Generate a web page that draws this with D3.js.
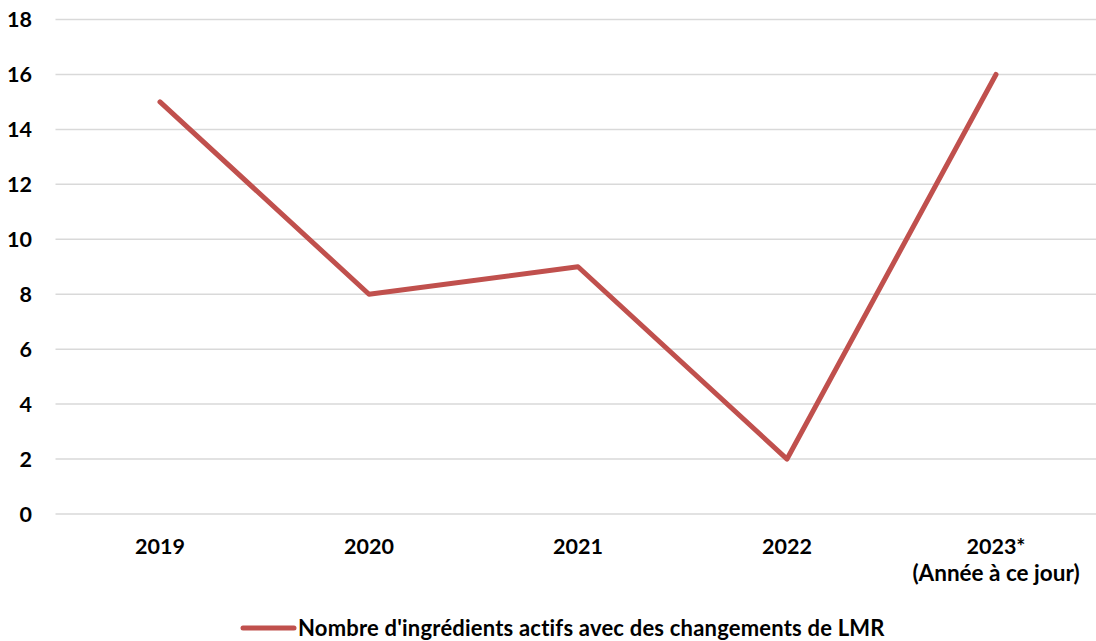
<!DOCTYPE html>
<html>
<head>
<meta charset="utf-8">
<script src="https://cdn.jsdelivr.net/npm/d3@7"></script>
<style>
  body { margin: 0; background: #fff; }
  text { font-family: Lato, "Open Sans", sans-serif; font-weight: bold; fill: #000; }
</style>
</head>
<body>
<svg id="chart" width="1096" height="641"></svg>
<script>
var years = ["2019", "2020", "2021", "2022", "2023*"];
var yearNotes = ["", "", "", "", "(Année à ce jour)"];
var counts = [15, 8, 9, 2, 16];
var yTicks = [0, 2, 4, 6, 8, 10, 12, 14, 16, 18];
var seriesName = "Nombre d'ingrédients actifs avec des changements de LMR";

var svg = d3.select("#chart"),
	margin = {top: 19.5, right: -4.5, bottom: 127, left: 55.5};
var width = +svg.attr("width"), height = +svg.attr("height");
var lineColor = "#c0504d";
var fontSize = "21.5px";

var x = d3.scaleBand().domain(years).range([margin.left, width - margin.right]);
var y = d3.scaleLinear().domain([0, 18]).range([height - margin.bottom, margin.top]);

// grid
svg.append("g").selectAll("line").data(yTicks).enter().append("line")
	.attr("x1", margin.left).attr("x2", width)
	.attr("y1", function(d) { return y(d); })
	.attr("y2", function(d) { return y(d); })
	.attr("stroke", "#d9d9d9").attr("stroke-width", 1.5);

// y labels
svg.append("g").selectAll("text").data(yTicks).enter().append("text")
	.attr("x", 32).attr("y", function(d) { return y(d); })
	.attr("dy", "0.35em").attr("text-anchor", "end")
	.style("font-size", fontSize)
	.text(function(d) { return d; });

// x labels
var xl = svg.append("g").selectAll("text").data(years).enter().append("text")
	.attr("x", function(d) { return x(d) + x.bandwidth() / 2; })
	.attr("y", 554)
	.attr("text-anchor", "middle")
	.style("font-size", fontSize);
xl.append("tspan").text(function(d) { return d; });
xl.append("tspan")
	.attr("x", function(d) { return x(d) + x.bandwidth() / 2; })
	.attr("dy", 27)
	.style("font-size", "22.5px")
	.text(function(d, i) { return yearNotes[i]; });

// line
var line = d3.line()
	.x(function(d, i) { return x(years[i]) + x.bandwidth() / 2; })
	.y(function(d) { return y(d); });
svg.append("path").datum(counts)
	.attr("d", line)
	.attr("fill", "none")
	.attr("stroke", lineColor)
	.attr("stroke-width", 5)
	.attr("stroke-linejoin", "round")
	.attr("stroke-linecap", "round");

// legend
var lg = svg.append("g");
lg.append("line").attr("x1", 243).attr("x2", 294).attr("y1", 628).attr("y2", 628)
	.attr("stroke", lineColor).attr("stroke-width", 5).attr("stroke-linecap", "round");
lg.append("text").attr("x", 298).attr("y", 628).attr("dy", "0.35em")
	.style("font-size", "22px").style("letter-spacing", "0.2px")
	.text(seriesName);
</script>
</body>
</html>
